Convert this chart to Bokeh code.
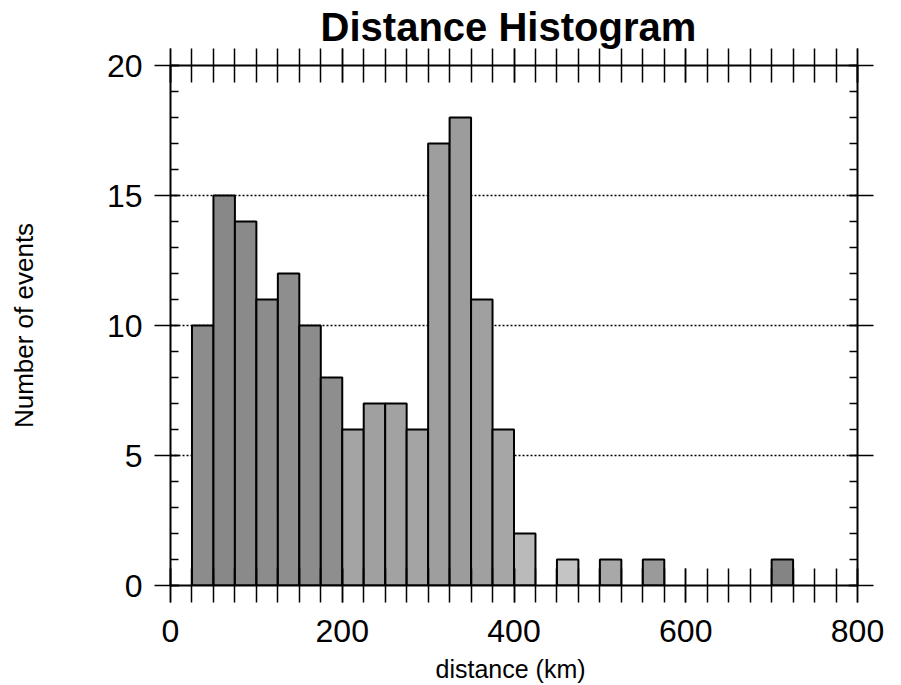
from bokeh.plotting import figure
from bokeh.models import (Range1d, LinearAxis, FixedTicker, SingleIntervalTicker,
                          CustomJSTickFormatter, ColumnDataSource, Grid)
from bokeh.embed import file_html
from bokeh.resources import INLINE

# ---- data ----
bin_width = 25
bin_left = [25, 50, 75, 100, 125, 150, 175, 200, 225, 250, 275, 300, 325, 350, 375, 400,
            450, 500, 550, 700]
counts = [10, 15, 14, 11, 12, 10, 8, 6, 7, 7, 6, 17, 18, 11, 6, 2,
          1, 1, 1, 1]
x_major = [0, 200, 400, 600, 800]
x_minor = list(range(0, 801, 25))
y_grid = [5, 10, 15]

# ---- styles ----
bar_greys = ["#8c8c8c", "#888888", "#8a8a8a", "#8c8c8c", "#8e8e8e", "#8c8c8c", "#8e8e8e",
             "#a4a4a4", "#a0a0a0", "#a2a2a2", "#a4a4a4", "#9e9e9e", "#9c9c9c", "#a0a0a0",
             "#a6a6a6", "#bababa", "#c4c4c4", "#a8a8a8", "#9a9a9a", "#848484"]
FONT = "Liberation Sans"

src = ColumnDataSource(dict(
    left=bin_left,
    right=[b + bin_width for b in bin_left],
    top=counts,
    color=bar_greys,
))

p = figure(width=893, height=685, output_backend="svg", toolbar_location=None,
           x_range=Range1d(0, 800), y_range=Range1d(0, 20),
           x_axis_type=None, y_axis_type=None,
           min_border_left=170, min_border_right=36, min_border_top=65, min_border_bottom=99,
           background_fill_color="white", border_fill_color="white",
           outline_line_color=None)

p.title.text = "Distance  Histogram"
p.title.align = "center"
p.title.text_font = FONT
p.title.text_font_size = "40px"
p.title.text_font_style = "bold"
p.title.text_color = "black"
p.title.standoff = 0

grid = Grid(dimension=1, ticker=FixedTicker(ticks=y_grid),
            grid_line_color="black", grid_line_width=1.6, grid_line_dash="2 2")
p.add_layout(grid)

p.quad(left="left", right="right", bottom=0, top="top", source=src,
       fill_color="color", line_color="black", line_width=2)

blank = CustomJSTickFormatter(code="return ''")


def style_x(ax, labels):
    ax.axis_line_width = 2
    ax.axis_line_color = "black"
    ax.major_tick_in = 17
    ax.major_tick_out = 17
    ax.minor_tick_in = 17
    ax.minor_tick_out = 17
    ax.major_tick_line_width = 1.5
    ax.minor_tick_line_width = 1.5
    ax.major_tick_line_color = "black"
    ax.minor_tick_line_color = "black"
    if labels:
        ax.major_label_text_font = FONT
        ax.major_label_text_font_size = "32px"
        ax.major_label_text_color = "black"
        ax.major_label_standoff = 17
    else:
        ax.formatter = blank
        ax.major_label_standoff = 0


def style_y(ax, labels):
    ax.axis_line_width = 2
    ax.axis_line_color = "black"
    ax.major_tick_in = 9
    ax.major_tick_out = 16
    ax.minor_tick_in = 8
    ax.minor_tick_out = 0
    ax.major_tick_line_width = 1.5
    ax.minor_tick_line_width = 1.5
    ax.major_tick_line_color = "black"
    ax.minor_tick_line_color = "black"
    if labels:
        ax.major_label_text_font = FONT
        ax.major_label_text_font_size = "32px"
        ax.major_label_text_color = "black"
        ax.major_label_standoff = 12
    else:
        ax.formatter = blank
        ax.major_label_standoff = 0


xb = LinearAxis(ticker=FixedTicker(ticks=x_major, minor_ticks=x_minor))
style_x(xb, True)
xb.axis_label = "distance  (km)"
xb.axis_label_text_font = FONT
xb.axis_label_text_font_size = "25px"
xb.axis_label_text_font_style = "normal"
xb.axis_label_text_color = "black"
xb.axis_label_standoff = 10
p.add_layout(xb, "below")

xt = LinearAxis(ticker=FixedTicker(ticks=x_major, minor_ticks=x_minor))
style_x(xt, False)
p.add_layout(xt, "above")

yl = LinearAxis(ticker=SingleIntervalTicker(interval=5, num_minor_ticks=5))
style_y(yl, True)
yl.axis_label = "Number of events"
yl.axis_label_text_font = FONT
yl.axis_label_text_font_size = "26px"
yl.axis_label_text_font_style = "normal"
yl.axis_label_text_color = "black"
yl.axis_label_standoff = 65
p.add_layout(yl, "left")

yr = LinearAxis(ticker=SingleIntervalTicker(interval=5, num_minor_ticks=5))
style_y(yr, False)
p.add_layout(yr, "right")

open("out.html", "w").write(file_html(p, INLINE))
